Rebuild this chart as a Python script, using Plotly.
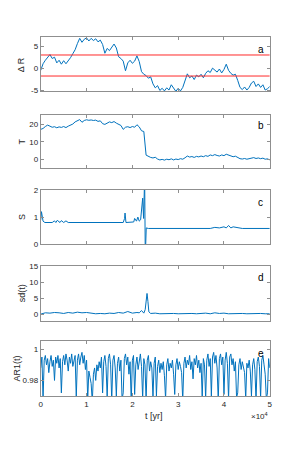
import numpy as np
import plotly.graph_objects as go

# ---------------- data ----------------
# panel a: Delta R, sampled every 500 yr
t_a = np.arange(0, 50001, 500)
dR = [-0.5, 1.0, 1.8, 2.6, 3.1, 2.2, 2.5, 1.2, 1.8, 0.9,
      1.7, 1.0, 1.6, 2.4, 3.3, 4.2, 5.6, 6.8, 5.9, 6.6,
      6.9, 6.2, 6.8, 6.3, 6.7, 6.0, 6.4, 5.4, 3.4, 4.5,
      4.0, 4.8, 5.5, 4.6, 2.6, 2.2, 1.6, -0.6, 1.2, 1.8,
      1.1, 1.6, 2.8, 1.5, -0.8, -1.4, -1.7, -2.3, -2.0, -3.6,
      -4.5, -4.0, -5.1, -4.6, -5.2, -4.5, -5.0, -3.8, -4.7, -5.3,
      -4.6, -5.2, -4.4, -2.6, -1.3, -2.2, -1.8, -2.6, -1.6, -2.0,
      -1.4, -2.2, -1.2, -0.6, -1.0, 0.0, -0.4, -0.9, -0.2, -1.1,
      -0.3, 0.9, -0.5, -1.2, -1.6, -1.4, -2.8, -4.4, -4.9, -4.3,
      -5.0, -4.4, -3.4, -3.0, -4.2, -3.6, -4.4, -3.8, -5.0, -4.7,
      -4.2]
red_levels = [3.0, -1.8]

# panel b: T, sampled every 500 yr
t_b = np.arange(0, 50001, 500)
T = [17.0, 17.5, 18.6, 19.4, 18.8, 18.2, 18.5, 17.9, 18.4, 18.1,
     18.6, 18.0, 18.8, 19.2, 20.0, 21.2, 22.1, 22.5, 21.0, 22.0,
     22.4, 22.1, 22.3, 22.0, 22.2, 21.5, 21.8, 20.2, 19.8, 20.6,
     21.2, 20.8, 21.4, 20.5, 19.6, 19.2, 17.0, 18.2, 18.5, 18.0,
     18.6, 18.2, 19.6, 18.4, 16.2, 15.8, 2.5, 1.6, 1.2, 0.9,
     1.3, 0.3, -0.2, 0.1, -0.3, 0.2, -0.1, 0.4, -0.2, 0.3,
     0.0, 0.5, 0.2, 1.0, 2.0, 1.4, 1.7, 1.2, 1.8, 1.5,
     2.0, 1.6, 2.2, 1.8, 2.6, 2.2, 2.8, 2.3, 2.0, 2.6,
     2.2, 3.0, 2.4, 2.0, 1.6, 1.9, 1.2, 0.5, 0.3, 0.6,
     0.2, 0.5, 0.8, 1.1, 0.6, 0.9, 0.5, 0.8, 0.2, 0.4,
     -0.2]

# panel c: S
t_c = [0, 150, 500, 900, 2500, 3000, 3300, 3600, 4200, 4500, 5000, 5500, 6000,
       8000, 12000, 18000, 18300, 18400, 18600, 19500, 20300, 20500, 20900,
       21200, 21500, 21800, 22000, 22250, 22450, 22680, 22820, 23030, 23500,
       30000, 36000, 36500, 37000, 38000, 39000, 40000, 40500, 41000, 41500,
       42000, 44000, 50000]
S = [0.9, 1.2, 0.85, 0.8, 0.8, 0.86, 0.8, 0.88, 0.8, 0.87, 0.8, 0.86, 0.8,
     0.8, 0.8, 0.8, 0.95, 1.15, 0.8, 0.8, 0.82, 0.95, 0.85,
     1.0, 0.85, 0.9, 1.3, 1.7, 0.95, 2.5, -0.5, 0.6, 0.58,
     0.58, 0.58, 0.6, 0.58, 0.62, 0.6, 0.64, 0.6, 0.69, 0.6,
     0.64, 0.58, 0.58]

# panel d: sd(t)
t_d = [0, 1000, 2000, 3000, 4000, 5000, 6000, 7000, 8000, 9000, 10000,
       11000, 12000, 13000, 14000, 15000, 16000, 17000, 18000, 19000, 20000,
       21000, 21500, 22000, 22500, 22800, 23000, 23200, 23400, 23600, 24000,
       25000, 26000, 27000, 28000, 29000, 30000, 31000, 32000, 33000, 34000,
       35000, 36000, 37000, 38000, 39000, 40000, 41000, 42000, 43000, 44000,
       45000, 46000, 47000, 48000, 49000, 50000]
sd = [0.1, 0.5, 0.4, 0.6, 0.5, 0.3, 0.6, 0.4, 0.7, 0.5, 0.6,
      0.3, 0.2, 0.3, 0.2, 0.4, 0.3, 0.6, 0.4, 0.9, 0.4,
      0.6, 0.5, 1.2, 0.4, 1.5, 4.5, 6.5, 4.0, 0.8, 0.3,
      0.4, 0.2, 0.3, 0.2, 0.3, 0.2, 0.3, 0.2, 0.3, 0.2,
      0.3, 0.4, 0.2, 0.5, 0.3, 0.4, 0.2, 0.3, 0.2, 0.3,
      0.2, 0.3, 0.2, 0.3, 0.2, 0.2]

# panel e: AR1(t), sampled every 250 yr
t_e = np.arange(0, 50001, 250)
AR1 = [0.988, 0.995, 0.968, 0.993, 0.996, 0.990, 0.994, 0.985, 0.992, 0.996,
       0.989, 0.993, 0.980, 0.995, 0.991, 0.996, 0.988, 0.994, 0.972, 0.992,
       0.996, 0.990, 0.997, 0.993, 0.986, 0.995, 0.991, 0.997, 0.989, 0.994,
       0.996, 0.969, 0.993, 0.997, 0.990, 0.995, 0.998, 0.991, 0.996, 0.987,
       0.993, 0.968, 0.986, 0.982, 0.978, 0.966, 0.984, 0.988, 0.980, 0.990,
       0.986, 0.992, 0.988, 0.995, 0.972, 0.992, 0.996, 0.989, 0.969, 0.994,
       0.997, 0.990, 0.967, 0.993, 0.996, 0.988, 0.970, 0.991, 0.995, 0.986,
       0.993, 0.968, 0.972, 0.994, 0.997, 0.990, 0.995, 0.984, 0.992, 0.966,
       0.993, 0.996, 0.971, 0.990, 0.995, 0.987, 0.993, 0.997, 0.989, 0.968,
       0.994, 0.990, 0.967, 0.993, 0.996, 0.986, 0.992, 0.988, 0.969, 0.991,
       0.995, 0.970, 0.989, 0.993, 0.985, 0.991, 0.987, 0.992, 0.983, 0.968,
       0.990, 0.994, 0.986, 0.991, 0.988, 0.993, 0.984, 0.971, 0.990, 0.994,
       0.987, 0.992, 0.989, 0.985, 0.967, 0.991, 0.995, 0.988, 0.993, 0.990,
       0.996, 0.987, 0.992, 0.981, 0.994, 0.990, 0.996, 0.988, 0.993, 0.985,
       0.991, 0.969, 0.994, 0.990, 0.968, 0.993, 0.997, 0.989, 0.994, 0.970,
       0.995, 0.998, 0.991, 0.996, 0.988, 0.967, 0.994, 0.997, 0.990, 0.995,
       0.971, 0.993, 0.998, 0.991, 0.968, 0.995, 0.997, 0.990, 0.994, 0.986,
       0.992, 0.969, 0.972, 0.990, 0.994, 0.987, 0.992, 0.989, 0.985, 0.968,
       0.991, 0.988, 0.993, 0.986, 0.970, 0.990, 0.994, 0.987, 0.967, 0.992,
       0.995, 0.989, 0.969, 0.993, 0.996, 0.990, 0.984, 0.968, 0.972, 0.994,
       0.988]

x_ticks = [0, 10000, 20000, 30000, 40000, 50000]
x_ticktext = ["0", "1", "2", "3", "4", "5"]
y_labels = ["Δ R", "T", "S", "sd(t)", "AR1(t)"]
panel_letters = ["a", "b", "c", "d", "e"]

# ---------------- layout geometry ----------------
OFF = 8  # default page margin of the html body
W, H = 300 - OFF, 450 - OFF


def px_x(p):
    return (p - OFF) / W


def px_y(p):
    return 1 - (p - OFF) / H


x_dom = [px_x(39.3), px_x(272.3)]
panels_px = [(34, 89), (113.3, 167.7), (189.7, 245), (267.3, 323.3), (344.3, 400)]
y_ranges = [[-5.3, 7], [-5, 25], [0, 2], [-2, 15], [0.97, 1.005]]
y_tickvals = [[-5, 0, 5], [0, 10, 20], [0, 1, 2], [0, 5, 10, 15], [0.98, 1.0]]
y_ticktext = [["-5", "0", "5"], ["0", "10", "20"], ["0", "1", "2"],
              ["0", "5", "10", "15"], ["0.98", "1"]]
letter_y_px = [46, 124, 202, 279, 357]
ylabel_x_px = [20, 20, 20, 21, 15]

blue = "#0072BD"
axcol = "#8f8f8f"
txtcol = "#262626"
font_family = "Liberation Sans, Arial, sans-serif"

fig = go.Figure()
series = [(t_a, dR), (t_b, T), (t_c, S), (t_d, sd), (t_e, AR1)]
for i, (tx, yy) in enumerate(series):
    sfx = "" if i == 0 else str(i + 1)
    fig.add_trace(go.Scatter(x=list(tx), y=yy, mode="lines",
                             line=dict(color=blue, width=1),
                             xaxis="x" + sfx, yaxis="y" + sfx,
                             showlegend=False, hoverinfo="skip"))
for lv in red_levels:
    fig.add_trace(go.Scatter(x=[0, 50000], y=[lv, lv], mode="lines",
                             line=dict(color="#ff2a2a", width=1),
                             xaxis="x", yaxis="y", showlegend=False,
                             hoverinfo="skip"))

layout = dict(width=W, height=H, margin=dict(l=0, r=0, t=0, b=0),
              paper_bgcolor="white", plot_bgcolor="white",
              font=dict(family=font_family, size=8, color=txtcol))
annotations = []
for i in range(5):
    sfx = "" if i == 0 else str(i + 1)
    top, bot = panels_px[i]
    ydom = [px_y(bot), px_y(top)]
    layout["xaxis" + sfx] = dict(
        domain=x_dom, range=[0, 50000], tickvals=x_ticks,
        ticktext=x_ticktext, showticklabels=(i == 4),
        ticks="inside", ticklen=3, tickcolor=axcol, tickwidth=1,
        showline=True, linecolor=axcol, linewidth=1, mirror="allticks",
        showgrid=False, zeroline=False, anchor="y" + sfx,
        tickfont=dict(size=8, color=txtcol, family=font_family))
    layout["yaxis" + sfx] = dict(
        domain=ydom, range=y_ranges[i], tickvals=y_tickvals[i],
        ticktext=y_ticktext[i],
        ticks="inside", ticklen=3, tickcolor=axcol, tickwidth=1,
        showline=True, linecolor=axcol, linewidth=1, mirror="allticks",
        showgrid=False, zeroline=False, anchor="x" + sfx,
        tickfont=dict(size=8, color=txtcol, family=font_family))
    annotations.append(dict(text=panel_letters[i], x=px_x(263), y=px_y(letter_y_px[i]),
                            xref="paper", yref="paper", showarrow=False,
                            xanchor="center", yanchor="middle",
                            font=dict(size=10, color="black", family=font_family)))
    annotations.append(dict(text=y_labels[i], x=px_x(ylabel_x_px[i]),
                            y=px_y((top + bot) / 2), xref="paper", yref="paper",
                            showarrow=False, textangle=-90, xanchor="center",
                            yanchor="middle",
                            font=dict(size=9, color=txtcol, family=font_family)))

annotations.append(dict(text="t [yr]", x=px_x(155), y=px_y(420), xref="paper",
                        yref="paper", showarrow=False, xanchor="center",
                        yanchor="middle",
                        font=dict(size=9, color=txtcol, family=font_family)))
annotations.append(dict(text="×10<sup>4</sup>", x=px_x(262), y=px_y(420),
                        xref="paper", yref="paper", showarrow=False,
                        xanchor="center", yanchor="middle",
                        font=dict(size=8, color=txtcol, family=font_family)))
layout["annotations"] = annotations
fig.update_layout(**layout)

fig.write_html("out.html")
